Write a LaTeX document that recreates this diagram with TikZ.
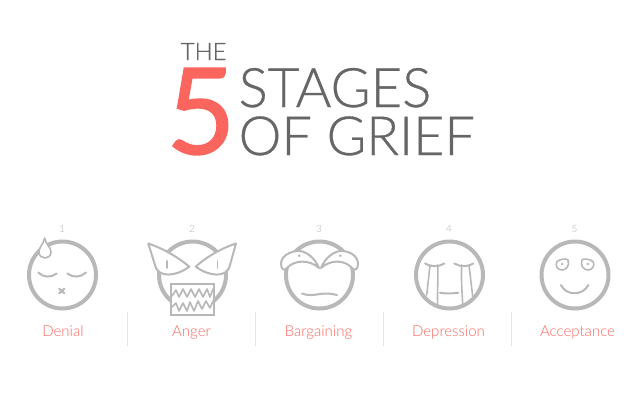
\documentclass[tikz,border=0pt]{standalone}
\usepackage{fontspec}
\setmainfont{Lato}
\newfontfamily\lightfont{Lato Light}
\newfontfamily\headfont[FakeBold=0.6]{Lato Light}
\newfontfamily\fivefont[FakeBold=1.2]{Lato}
\definecolor{griefgray}{HTML}{666666}
\definecolor{griefred}{HTML}{FA665E}
\definecolor{facegray}{HTML}{B8B8B8}
\begin{document}
\begin{tikzpicture}[
    x=1pt,y=-1pt,
    title/.style={anchor=base west,inner sep=0pt,text=griefgray,font=\headfont\fontsize{#1}{#1}\selectfont},
    ring/.style={draw=facegray,line width=4pt,circle,inner sep=0pt,minimum size=67pt},
    stagenum/.style={inner sep=0pt,text=black!30,font=\lightfont\fontsize{10}{10}\selectfont},
    stagename/.style={anchor=base,inner sep=0pt,text=griefred,font=\lightfont\fontsize{15}{15}\selectfont},
    feature/.style={draw=facegray,line width=2pt,line cap=round,line join=round},
    thin feature/.style={draw=facegray,line width=1.6pt,line cap=round,line join=round}
]
\useasboundingbox (0,0) rectangle (640,400);

%Draw the title
\node[title=24] (the) at (180.5,60) {THE};
\node[anchor=base west,inner sep=0pt,text=griefred,font=\fivefont\fontsize{120}{120}\selectfont] (five) at (166,154) {5};
\node[title=54.5] (stages) at (238.5,107) {STAGES};
\node[title=54] (grief) at (238.5,155) {OF GRIEF};

%Draw the rings and the labels
\foreach \x/\lx/\n/\name/\txt in {62.5/63/1/denial/Denial,192.5/191.5/2/anger/Anger,319.5/318.5/3/bargaining/Bargaining,449.5/448.5/4/depression/Depression,575/577.5/5/acceptance/Acceptance}{
    \node[ring] (\name) at (\x,275) {};
    \node[stagenum] (num\n) at (\x-0.5,229) {\n};
    \node[stagename] (label\n) at (\lx,336) {\txt};
}
\foreach \x in {127.5,255.5,383.5,511.5}
    \draw[black!10,line width=0.6pt] (\x,312) -- (\x,346);

%Denial
\draw[thin feature,fill=white] (44.7,238) .. controls (43,245) and (39,247) .. (39,252) .. controls (39,260) and (51,260) .. (51,252) .. controls (51,247) and (46,245) .. (44.7,238) -- cycle;
\draw[feature] (38.3,272.5) .. controls (43,277.5) and (51,278) .. (56.7,273.5);
\draw[feature] (67.3,273.5) .. controls (73,278) and (81,277.5) .. (86,272.5);
\draw[feature] (59,288.5) -- (64.5,293.5) (64.5,288.5) -- (59,293.5);

%Anger
\draw[feature,fill=white] (148.3,243.5) .. controls (162,248) and (178,257) .. (189.3,266.7) .. controls (177,276) and (158,279) .. (155,265) -- cycle;
\draw[feature,fill=white] (236,243.5) .. controls (222,248) and (206,257) .. (195.7,266.7) .. controls (208,276) and (227,279) .. (230,265) -- cycle;
\draw[thin feature] (166.7,261) -- (166.7,268);
\draw[thin feature] (217.3,261) -- (217.3,268);
\draw[feature,fill=white,line cap=butt,line join=miter] (170.7,284) rectangle (214,315);
\draw[thin feature] (172,296) -- (176,290) -- (179,297) -- (183,289) -- (187,297) -- (191,289) -- (195,297) -- (199,289) -- (203,297) -- (207,289) -- (210,297) -- (213,289);
\draw[thin feature] (172,307) -- (176,303) -- (179,311) -- (183,303) -- (187,311) -- (190,302) -- (194,311) -- (198,301) -- (202,309) -- (206,301) -- (210,308) -- (213,301);

%Bargaining
\draw[feature,fill=white] (319,268) .. controls (315,258) and (306,251) .. (299,251) .. controls (290,251) and (281,256) .. (281,264) .. controls (281,270) and (285,271) .. (287,268) .. controls (294,260) and (309,259) .. (319,268) -- cycle;
\draw[feature,fill=white] (321,268) .. controls (325,258) and (334,251) .. (341,251) .. controls (350,251) and (358,256) .. (358,264) .. controls (358,270) and (354,271) .. (352,268) .. controls (345,260) and (331,259) .. (321,268) -- cycle;
\fill[facegray] (299.3,255.7) circle (1.4) (340.3,255.7) circle (1.4);
\draw[feature] (302,293.5) .. controls (308,296) and (314,295) .. (320,294) .. controls (326,293) and (331,293.5) .. (337,295);

%Depression
\draw[feature] (425,263.5) .. controls (430,267) and (439,267) .. (444.3,263.5);
\draw[feature] (454.3,263.5) .. controls (460,267) and (468,267) .. (473.3,263.5);
\draw[thin feature] (430,265) -- (426.7,295);
\draw[thin feature] (437.7,265) .. controls (438.5,280) and (437,290) .. (437.7,305);
\draw[thin feature] (461.7,265) .. controls (461,280) and (462,290) .. (462.7,305);
\draw[thin feature] (469,265) -- (472.7,296.5);
\draw[feature] (440,292.7) .. controls (446,294) and (452,293.5) .. (458.3,292.7);

%Acceptance
\draw[thin feature] (557,261.5) .. controls (561,259) and (566,258) .. (568,260) .. controls (570,266) and (566,270) .. (562,270) .. controls (557,270) and (555,265) .. (557,261.5) -- cycle;
\draw[thin feature] (593,261.5) .. controls (589,259) and (584,258) .. (582,260) .. controls (580,266) and (584,270) .. (588,270) .. controls (593,270) and (595,265) .. (593,261.5) -- cycle;
\fill[facegray] (562.3,264) circle (1.4) (587.7,264) circle (1.4);
\draw[feature] (561,285) .. controls (566,296) and (583,296) .. (588.3,285);
\end{tikzpicture}
\end{document}
